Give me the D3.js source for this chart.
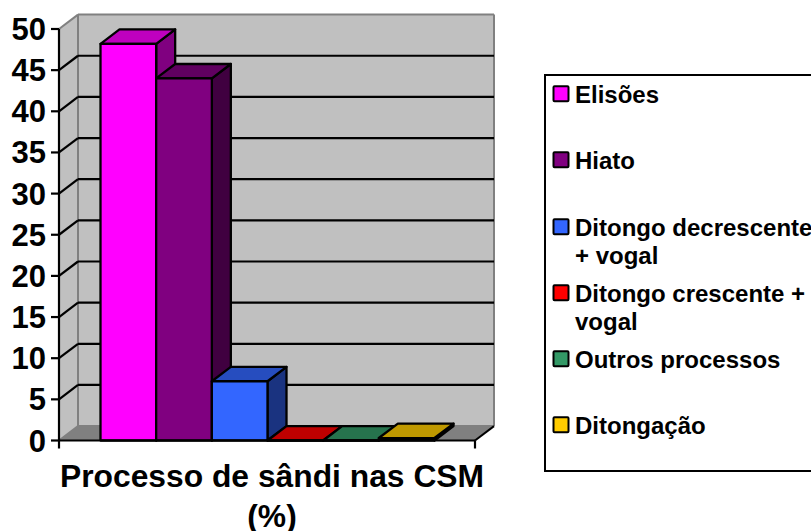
<!DOCTYPE html>
<html><head><meta charset="utf-8">
<script src="https://cdn.jsdelivr.net/npm/d3@7"></script>
<style>html,body{margin:0;background:#fff}svg{display:block}text{font-family:"Liberation Sans",Arial,sans-serif;font-weight:bold;fill:#000}</style>
</head><body><svg id="c" width="811" height="531"></svg>
<script>
const categories = ["Elisões","Hiato","Ditongo decrescente + vogal","Ditongo crescente + vogal","Outros processos","Ditongação"];
const values = [48.2,44,7.2,0,0,0.3];
const legendLines = [["Elisões"],["Hiato"],["Ditongo decrescente","+ vogal"],["Ditongo crescente +","vogal"],["Outros processos"],["Ditongação"]];
const colors = ["#ff00ff","#800080","#3366ff","#ff0000","#339966","#ffcc00"];
const yTicks = d3.range(0,51,5);
const titleLines = ["Processo de sândi nas CSM","(%)"];

const svg = d3.select("#c");
const y = d3.scaleLinear().domain([0,50]).range([440.5,29]);
const x = d3.scaleBand().domain(categories).range([100.5,434.5]);
const X0=59, X1=475, dx=19, dy=-14.4;
const poly=(pts,fill,stroke,sw)=>svg.append("polygon").attr("points",pts.map(p=>p.join(",")).join(" "))
  .attr("fill",fill).attr("stroke",stroke||"none").attr("stroke-width",sw||0).attr("stroke-linejoin","round");
const line=(a,b,c,w)=>svg.append("line").attr("x1",a[0]).attr("y1",a[1]).attr("x2",b[0]).attr("y2",b[1]).attr("stroke",c).attr("stroke-width",w);

// walls and floor
poly([[X0+dx,y(50)+dy],[X1+dx,y(50)+dy],[X1+dx,y(0)+dy],[X0+dx,y(0)+dy]],"#c0c0c0");
poly([[X0,y(50)],[X0+dx,y(50)+dy],[X0+dx,y(0)+dy],[X0,y(0)]],"#c0c0c0");
poly([[X0,y(0)],[X0+dx,y(0)+dy],[X1+dx,y(0)+dy],[X1,y(0)]],"#808080");
// wall edges
line([X0+dx,y(50)+dy],[X1+dx,y(50)+dy],"#808080",2);
line([X1+dx,y(50)+dy],[X1+dx,y(0)+dy],"#808080",2);
line([X0+dx,y(50)+dy],[X0+dx,y(0)+dy],"#808080",2);
line([X0,y(50)],[X0+dx,y(50)+dy],"#808080",2);
line([X0+dx,y(0)+dy],[X1+dx,y(0)+dy],"#808080",2);
line([X0,y(0)],[X0+dx,y(0)+dy],"#808080",2);
// gridlines
yTicks.filter(t=>t>0&&t<50).forEach(t=>{
  line([X0,y(t)],[X0+dx,y(t)+dy],"#000",2.2);
  line([X0+dx,y(t)+dy],[X1+dx,y(t)+dy],"#000",2.2);
});
line([X1,y(0)],[X1+dx,y(0)+dy],"#000",2);

// bars
const shade=(c,k)=>{const r=d3.rgb(c);return d3.rgb(r.r*k,r.g*k,r.b*k).formatHex();};
categories.forEach((c,i)=>{
  const l=x(c), r=l+x.bandwidth(), t=y(values[i]), b=y(0);
  poly([[r,b],[r+dx,b+dy],[r+dx,t+dy],[r,t]],shade(colors[i],0.5),"#000",2.3);
  poly([[l,t],[l+dx,t+dy],[r+dx,t+dy],[r,t]],shade(colors[i],0.75),"#000",2.3);
  poly([[l,t],[r,t],[r,b],[l,b]],colors[i],"#000",2.3);
});

// axes
line([X0,y(50)],[X0,y(0)],"#000",2.2);
line([X0,y(0)],[X1,y(0)],"#000",2.2);
line([X0,y(0)],[X0,y(0)+8],"#000",2.2);
line([X1,y(0)],[X1,y(0)+8],"#000",2.2);
yTicks.forEach(t=>{
  line([X0-8,y(t)],[X0,y(t)],"#000",2.2);
  svg.append("text").attr("x",46).attr("y",y(t)+11).attr("text-anchor","end").attr("font-size",31).text(t);
});
titleLines.forEach((s,i)=>svg.append("text").attr("x",272).attr("y",487+i*39.5).attr("text-anchor","middle").attr("font-size",31.8).text(s));

// legend
svg.append("rect").attr("x",545).attr("y",75).attr("width",280).attr("height",396).attr("fill","#fff").attr("stroke","#000").attr("stroke-width",2);
const ly=[95,161,228,294,360,426];
categories.forEach((c,i)=>{
  svg.append("rect").attr("x",553.5).attr("y",ly[i]-8.7).attr("width",15).attr("height",15).attr("rx",1).attr("fill",colors[i]).attr("stroke","#000").attr("stroke-width",2);
  legendLines[i].forEach((s,j)=>svg.append("text").attr("x",575).attr("y",ly[i]+8+j*28).attr("font-size",24).text(s));
});
</script></body></html>
